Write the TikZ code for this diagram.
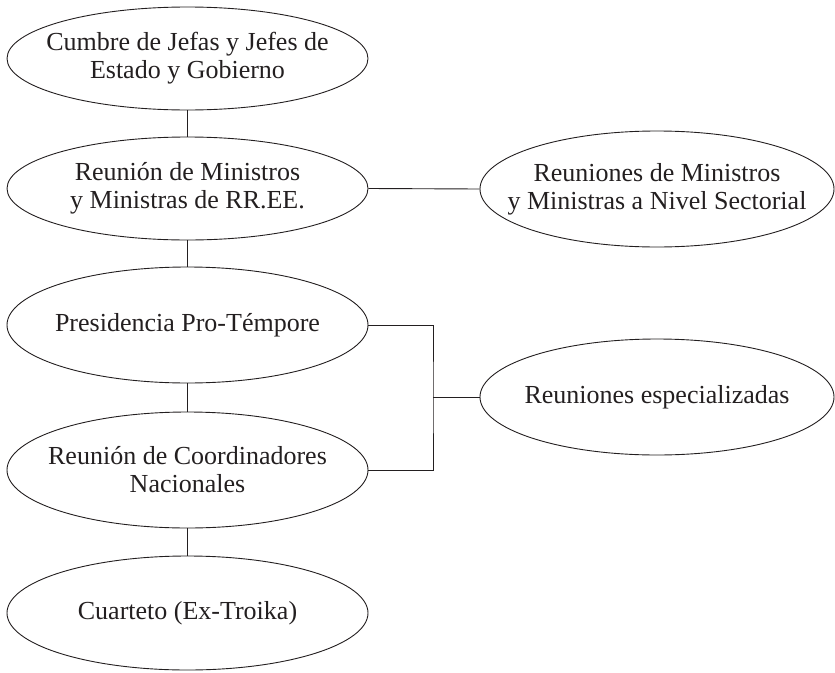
\documentclass[tikz,border=0pt]{standalone}
\usepackage{fontspec}
\setmainfont{Liberation Serif}
\usetikzlibrary{shapes.geometric}
\definecolor{ink}{HTML}{231F20}
\begin{document}
\begin{tikzpicture}[x=1pt,y=-1pt,
  ell/.style={ellipse,draw=ink,line width=0.9pt,inner sep=0pt,minimum width=361pt,minimum height=103pt},
  tall/.style={minimum height=116pt},
  rell/.style={minimum width=354pt,minimum height=116pt},
  txt/.style={align=center,text=ink,font=\fontsize{26}{28}\selectfont,inner sep=0pt},
  link/.style={draw=ink,line width=0.9pt}]
\useasboundingbox (0,0) rectangle (835,672);
\node[ell,label={[txt]center:Cumbre de Jefas y Jefes de\\Estado y Gobierno}] (e1) at (187.5,58.5) {};
\node[ell,label={[txt]center:Reunión de Ministros\\y Ministras de RR.EE.}] (e2) at (187.5,188.5) {};
\node[ell,rell,label={[txt]center:Reuniones de Ministros\\y Ministras a Nivel Sectorial}] (r1) at (657,189) {};
\node[ell,tall,label={[txt]center:Presidencia Pro-Témpore}] (e3) at (187.5,325) {};
\node[ell,tall,label={[txt]center:Reunión de Coordinadores\\Nacionales}] (e4) at (187.5,470) {};
\node[ell,minimum height=114pt,label={[txt]center:Cuarteto (Ex-Troika)}] (e5) at (187.5,613) {};
\node[ell,rell,label={[txt]center:Reuniones especializadas}] (r2) at (657,397) {};
\coordinate (br) at (433,397);
\draw[link] (e1.south) -- (e2.north);
\draw[link] (e2.east) -- (r1.west);
\draw[link] (e2.south) -- (e3.north);
\draw[link] (e3.south) -- (e4.north);
\draw[link] (e4.south) -- (e5.north);
\draw[link] (e3.east) -| (br) |- (e4.east);
\draw[link] (br) -- (r2.west);
\end{tikzpicture}
\end{document}
